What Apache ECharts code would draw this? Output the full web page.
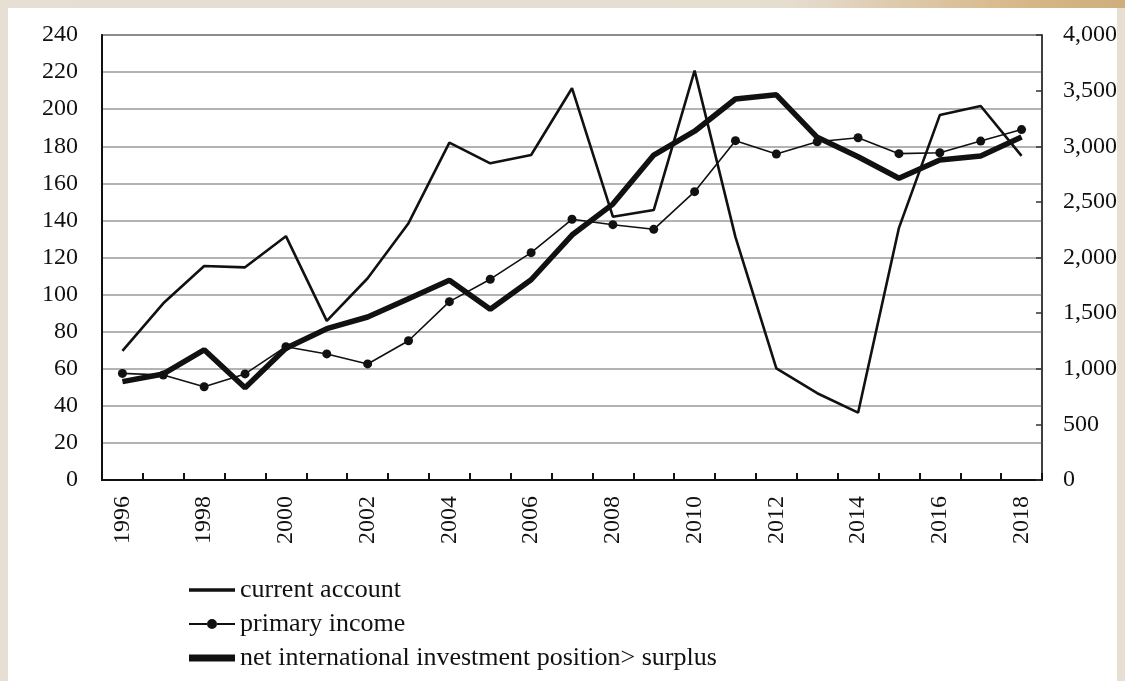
<!DOCTYPE html>
<html>
<head>
<meta charset="utf-8">
<script src="https://cdn.jsdelivr.net/npm/echarts@6/dist/echarts.min.js"></script>
<style>
  html, body { margin: 0; padding: 0; }
  body {
    width: 1125px; height: 681px; overflow: hidden;
    background: #e7dfd4;
    position: relative;
  }
  #topstrip {
    position: absolute; left: 0; top: 0; width: 1125px; height: 8px;
    background: linear-gradient(90deg, #e7dfd4 0%, #e6ddd1 70%, #dcc6a4 82%, #d7b685 92%, #cfae7e 100%);
  }
  #panel {
    position: absolute; left: 8px; top: 8px; width: 1109px; height: 673px;
    background: #ffffff;
  }
  #chart {
    position: absolute; left: 0; top: 0; width: 1125px; height: 681px;
  }
</style>
</head>
<body>
<div id="topstrip"></div>
<div id="panel"></div>
<div id="chart"></div>
<script>
// Years on the category axis
const years = ['1996','1997','1998','1999','2000','2001','2002','2003','2004','2005','2006','2007',
               '2008','2009','2010','2011','2012','2013','2014','2015','2016','2017','2018'];

// Left axis (0-240)
const currentAccount = [69.6, 95.3, 115.4, 114.7, 131.5, 85.8, 108.8, 138.5, 182, 170.8, 175.3, 211.3,
                        142, 145.6, 220.8, 131, 60.2, 46.8, 36.3, 136, 196.8, 201.7, 174.8];
const primaryIncome = [57.5, 56.6, 50.3, 57.2, 71.9, 68, 62.6, 75.1, 96.2, 108.3, 122.6, 140.6,
                       137.7, 135.2, 155.5, 183, 175.8, 182.4, 184.6, 176, 176.5, 182.8, 189];

// Right axis (0-4,000)
const netPosition = [884, 953, 1170, 830, 1184, 1360, 1465, 1630, 1795, 1535, 1800, 2202,
                     2480, 2921, 3135, 3425, 3462, 3080, 2906, 2712, 2876, 2912, 3083];

const seriesNames = ['current account', 'primary income', 'net international investment position> surplus'];

const serif = "'Liberation Serif', 'Times New Roman', 'DejaVu Serif', serif";
const ink = '#111111';

// Legend keys: a 46x14 box is pinned by zero-area slivers at top and bottom,
// so the drawn stroke keeps its own thickness inside the box.
const frame = 'M0,0 L46,0 L46,0.001 Z M0,14 L46,14 L46,13.999 Z ';
const thinKey = 'path://' + frame + 'M0,5.3 L46,5.3 L46,8.7 L0,8.7 Z';
const markerKey = 'path://' + frame +
  'M0,6.1 L18,6.1 L18,7.9 L0,7.9 Z M28,6.1 L46,6.1 L46,7.9 L28,7.9 Z ' +
  'M18,7 A5,5 0 1,1 28,7 A5,5 0 1,1 18,7 Z';
const thickKey = 'path://' + frame + 'M0,3.4 L46,3.4 L46,10.6 L0,10.6 Z';

const chart = echarts.init(document.getElementById('chart'), null, { renderer: 'canvas' });

chart.setOption({
  animation: false,
  backgroundColor: 'transparent',
  textStyle: { fontFamily: serif, color: ink },
  grid: {
    left: 102, right: 83, top: 35, bottom: 201,
    show: true, borderColor: '#333333', borderWidth: 1.5, backgroundColor: 'transparent'
  },
  legend: {
    orient: 'vertical',
    left: 189, top: 577,
    padding: 0,
    itemWidth: 46, itemHeight: 14, itemGap: 8,
    itemStyle: { color: ink, borderWidth: 0 },
    textStyle: { fontFamily: serif, fontSize: 26, color: ink },
    data: [
      { name: seriesNames[0], icon: thinKey },
      { name: seriesNames[1], icon: markerKey },
      { name: seriesNames[2], icon: thickKey }
    ]
  },
  xAxis: {
    type: 'category',
    data: years,
    boundaryGap: true,
    axisLine: { show: true, lineStyle: { color: ink, width: 2 } },
    axisTick: { show: true, inside: true, interval: 0, length: 7, lineStyle: { color: ink, width: 2 } },
    axisLabel: {
      interval: 1, rotate: 90, margin: 16,
      fontFamily: serif, fontSize: 24, color: ink
    },
    splitLine: { show: false }
  },
  yAxis: [
    {
      type: 'value', min: 0, max: 240, interval: 20, position: 'left',
      axisLine: { show: true, lineStyle: { color: ink, width: 2 } },
      axisTick: { show: false },
      axisLabel: { margin: 24, fontFamily: serif, fontSize: 24, color: ink },
      splitLine: { show: true, lineStyle: { color: '#9a9a9a', width: 1.5 } }
    },
    {
      type: 'value', min: 0, max: 4000, interval: 500, position: 'right',
      axisLine: { show: true, lineStyle: { color: '#333333', width: 1.5 } },
      axisTick: { show: true, inside: true, length: 6, lineStyle: { color: '#333333', width: 1.5 } },
      axisLabel: {
        margin: 21, fontFamily: serif, fontSize: 24, color: ink,
        formatter: v => v.toLocaleString('en-US')
      },
      splitLine: { show: false }
    }
  ],
  series: [
    {
      name: seriesNames[0], type: 'line', yAxisIndex: 0,
      data: currentAccount,
      symbol: 'none',
      lineStyle: { color: ink, width: 2.6 },
      itemStyle: { color: ink },
      z: 3
    },
    {
      name: seriesNames[1], type: 'line', yAxisIndex: 0,
      data: primaryIncome,
      symbol: 'circle', symbolSize: 9, showSymbol: true,
      lineStyle: { color: ink, width: 1.6 },
      itemStyle: { color: ink },
      z: 4
    },
    {
      name: seriesNames[2], type: 'line', yAxisIndex: 1,
      data: netPosition,
      symbol: 'none',
      lineStyle: { color: ink, width: 5.5 },
      itemStyle: { color: ink },
      z: 5
    }
  ]
});
</script>
</body>
</html>
